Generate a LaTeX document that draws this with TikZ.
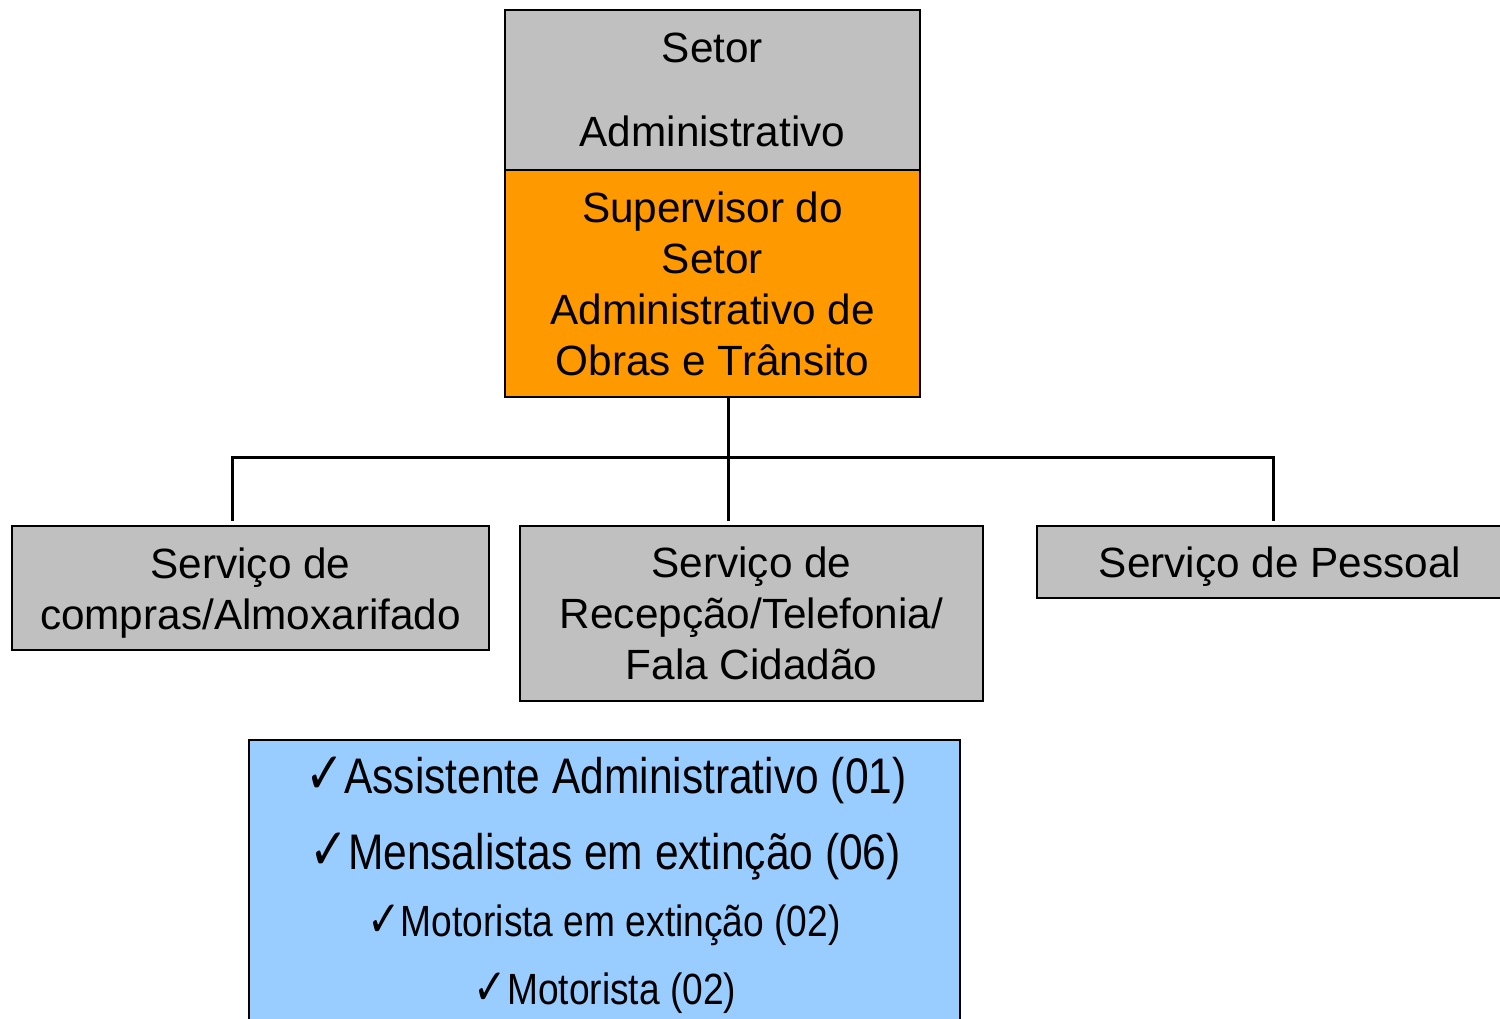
\documentclass[tikz,border=0pt]{standalone}
\usepackage{fontspec}
\setmainfont{Liberation Sans}
\newfontfamily\narrowfont[FakeStretch=0.85]{Liberation Sans}
\newfontfamily\checkfont[FakeStretch=0.8]{DejaVu Sans}
\definecolor{boxgray}{HTML}{C0C0C0}
\definecolor{boxorange}{HTML}{FF9900}
\definecolor{boxblue}{HTML}{99CCFF}
\begin{document}
\begin{tikzpicture}[x=1pt,y=-1pt,
  box/.style={draw=black,line width=2pt,rectangle,inner sep=0pt,align=center,
    font=\fontsize{42.3}{51}\selectfont},
  txt/.style={inner sep=0pt,align=center,font=\fontsize{42.3}{51}\selectfont},
  conn/.style={draw=black,line width=3pt},
  bigline/.style={inner sep=0pt,font=\narrowfont\fontsize{50}{60}\selectfont},
  smallline/.style={inner sep=0pt,font=\narrowfont\fontsize{43.7}{52}\selectfont}]
\useasboundingbox (0,0) rectangle (1500,1018);
\clip (0,0) rectangle (1500,1018);
\fill[white] (0,0) rectangle (1500,1018);
% top boxes
\node[box,fill=boxgray,minimum width=415pt,minimum height=160pt,
  font=\fontsize{42.3}{84}\selectfont] (setor) at (712.5,90) {Setor\\Administrativo};
\node[box,fill=boxorange,minimum width=415pt,minimum height=227pt] (orange) at (712.5,283.5)
  {Supervisor do\\Setor\\Administrativo de\\Obras e Trânsito};
% children
\node[box,fill=boxgray,minimum width=477pt,minimum height=124pt] (b1) at (250.5,588) {};
\node[txt] (b1t) at ([yshift=-5pt]b1.center) {Serviço de\\compras/Almoxarifado};
\node[box,fill=boxgray,minimum width=463pt,minimum height=175pt] (b2) at (751.5,613.5)
  {Serviço de\\Recepção/Telefonia/\\Fala Cidadão};
\node[box,fill=boxgray,minimum width=486pt,minimum height=72pt] (b3) at (1280,562) {};
\node[txt] (b3t) at ([yshift=-5pt]b3.center) {Serviço de Pessoal};
% connectors
\coordinate (j) at (728,457);
\coordinate (t1) at (232,521);
\coordinate (t2) at (728,521);
\coordinate (t3) at (1273,521);
\draw[conn] (orange.south -| j) -- (t2);
\draw[conn] (t1) |- (j) -| (t3);
% blue box
\node[draw=black,line width=2pt,fill=boxblue,rectangle,minimum width=711pt,minimum height=310pt,inner sep=0pt] (blue) at (604.5,895) {};
\node[bigline] (l1) at (606,780) {{\checkfont\fontsize{58}{60}\selectfont ✓}Assistente Administrativo (01)};
\node[bigline] (l2) at (605,857) {{\checkfont\fontsize{58}{60}\selectfont ✓}Mensalistas em extinção (06)};
\node[smallline] (l3) at (604,925) {{\checkfont\fontsize{50}{52}\selectfont ✓}Motorista em extinção (02)};
\node[smallline] (l4) at (605,993) {{\checkfont\fontsize{50}{52}\selectfont ✓}Motorista (02)};
\end{tikzpicture}
\end{document}
